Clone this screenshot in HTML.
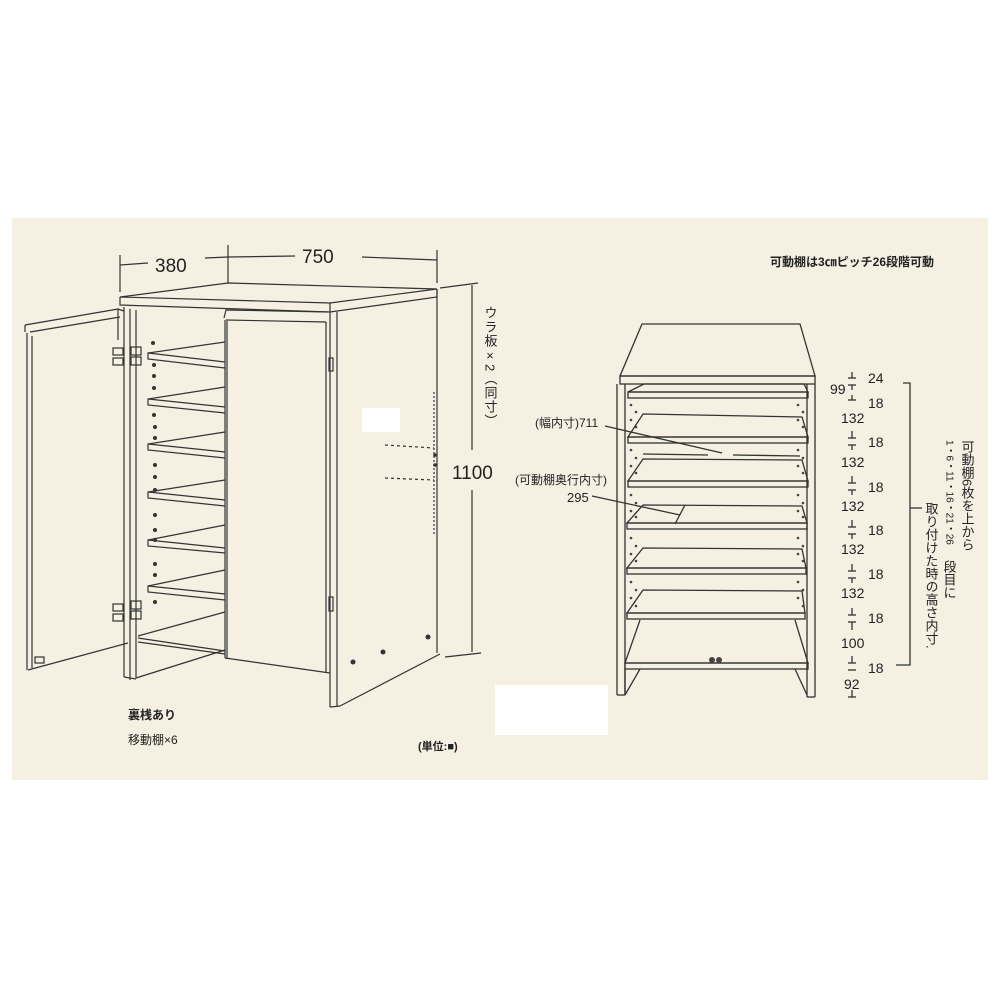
<!DOCTYPE html>
<html><head><meta charset="utf-8"><style>
html,body{margin:0;padding:0;background:#fff;width:1000px;height:1000px;overflow:hidden}
svg{display:block}
text{font-family:"Liberation Sans","Noto Sans CJK JP",sans-serif;fill:#222}
</style></head><body>
<svg width="1000" height="1000" viewBox="0 0 1000 1000" xmlns="http://www.w3.org/2000/svg">
<rect x="0" y="0" width="1000" height="1000" fill="#fff"/>
<rect x="12" y="218" width="976" height="562" fill="#f6f0e3"/>
<rect x="362" y="408" width="38" height="24" fill="#fff"/>
<rect x="495" y="685" width="113" height="50" fill="#fff"/>
<g stroke="#333" stroke-width="1.2" fill="none">
<!-- dims top -->
<line x1="120" y1="255" x2="120" y2="292"/><line x1="120" y1="265" x2="148" y2="263"/>
<line x1="205" y1="258" x2="228" y2="257"/><line x1="228" y1="245" x2="228" y2="283"/>
<line x1="228" y1="257" x2="295" y2="256"/>
<line x1="362" y1="257" x2="437" y2="260"/><line x1="437" y1="250" x2="437" y2="283"/>
<!-- top slab -->
<polygon points="120,297 228,283 437,289 330,303" fill="#f6f0e3"/>
<polyline points="120,297 120,305 330,312 437,297 437,289"/>
<line x1="330" y1="303" x2="330" y2="312"/>
<!-- left side panel -->
<line x1="124" y1="307" x2="124" y2="677"/><line x1="130" y1="309" x2="130" y2="680"/><line x1="136" y1="310" x2="136" y2="678"/>
<line x1="124" y1="677" x2="136" y2="679"/>
<line x1="136" y1="678" x2="225" y2="650"/>
<!-- shelves -->
<g>
<polyline points="225,342 148,353 148,359 225,368"/><line x1="148" y1="353" x2="225" y2="362"/>
<polyline points="225,387 148,399 148,405 225,413"/><line x1="148" y1="399" x2="225" y2="407"/>
<polyline points="225,432 148,444 148,450 225,458"/><line x1="148" y1="444" x2="225" y2="452"/>
<polyline points="225,480 148,492 148,498 225,506"/><line x1="148" y1="492" x2="225" y2="500"/>
<polyline points="225,525 148,540 148,546 225,553"/><line x1="148" y1="540" x2="225" y2="548"/>
<polyline points="225,570 148,586 148,592 225,600"/><line x1="148" y1="586" x2="225" y2="594"/>
<polyline points="225,612 138,636"/><polyline points="138,638 225,651"/><line x1="138" y1="642" x2="225" y2="654"/>
</g>
<!-- open door -->
<polyline points="25,325 118,309 124,311"/><line x1="30" y1="332" x2="120" y2="317"/>
<line x1="25" y1="325" x2="25" y2="332"/>
<line x1="27" y1="333" x2="27" y2="670"/><line x1="32" y1="336" x2="32" y2="668"/>
<line x1="28" y1="670" x2="128" y2="643"/>
<line x1="118" y1="309" x2="118" y2="340"/>
<!-- closed door -->
<polyline points="224,318 226,310 328,312"/>
<line x1="226" y1="320" x2="326" y2="322"/>
<line x1="225" y1="320" x2="225" y2="658"/><line x1="227" y1="321" x2="227" y2="659"/>
<line x1="225" y1="658" x2="330" y2="673"/>
<line x1="326" y1="322" x2="326" y2="673"/>
<!-- right side panel -->
<line x1="330" y1="312" x2="330" y2="707"/><line x1="337" y1="312" x2="337" y2="706"/>
<line x1="330" y1="707" x2="340" y2="706"/>
<line x1="340" y1="706" x2="440" y2="654"/>
<line x1="437" y1="290" x2="437" y2="653"/>
<!-- back line -->
<line x1="440" y1="288" x2="478" y2="283"/>
<line x1="472" y1="285" x2="472" y2="450"/><line x1="472" y1="490" x2="472" y2="652"/>
<line x1="445" y1="657" x2="481" y2="653"/>
<!-- hinge boxes -->
<rect x="113" y="348" width="10" height="7"/><rect x="113" y="358" width="10" height="7"/>
<rect x="131" y="347" width="10" height="8"/><rect x="131" y="357" width="10" height="8"/>
<rect x="113" y="604" width="10" height="7"/><rect x="113" y="614" width="10" height="7"/>
<rect x="131" y="601" width="10" height="8"/><rect x="131" y="611" width="10" height="8"/>
<rect x="35" y="657" width="9" height="6"/>
<rect x="329" y="358" width="4" height="13"/><rect x="329" y="597" width="4" height="14"/>
<!-- dashed right -->
<line x1="434" y1="392" x2="434" y2="535" stroke-dasharray="2,2"/>
<line x1="385" y1="445" x2="434" y2="448" stroke-dasharray="3,3"/>
<line x1="385" y1="478" x2="434" y2="480" stroke-dasharray="3,3"/>
</g>
<g fill="#333">
<circle cx="153" cy="343" r="2"/><circle cx="154" cy="365" r="2"/><circle cx="154" cy="376" r="2"/><circle cx="154" cy="388" r="2"/>
<circle cx="154" cy="415" r="2"/><circle cx="155" cy="427" r="2"/><circle cx="155" cy="438" r="2"/>
<circle cx="155" cy="465" r="2"/><circle cx="155" cy="477" r="2"/><circle cx="155" cy="490" r="2"/>
<circle cx="155" cy="515" r="2"/><circle cx="155" cy="530" r="2"/><circle cx="155" cy="540" r="2"/>
<circle cx="155" cy="564" r="2"/><circle cx="155" cy="575" r="2"/><circle cx="155" cy="602" r="2"/>
<circle cx="353" cy="662" r="2.5"/><circle cx="383" cy="652" r="2.5"/><circle cx="428" cy="637" r="2.5"/>
<circle cx="435" cy="455" r="1.8"/><circle cx="435" cy="465" r="1.8"/>
</g>
<text x="155" y="272" font-size="19">380</text>
<text x="302" y="263" font-size="19">750</text>
<text x="452" y="479" font-size="19">1100</text>
<text font-size="13" writing-mode="tb" x="490" y="306" style="writing-mode:vertical-rl" letter-spacing="1">ウラ板×2（同寸）</text>
<text x="128" y="719" font-size="12" font-weight="bold">裏桟あり</text>
<text x="128" y="744" font-size="12">移動棚×6</text>
<text x="418" y="750" font-size="11" font-weight="bold">(単位:■)</text>

<!-- right drawing -->
<g stroke="#333" stroke-width="1.3" fill="none">
<polygon points="642,324 800,324 815,376 620,376"/>
<rect x="620" y="376" width="195" height="8"/>
<line x1="617" y1="384" x2="617" y2="695"/><line x1="625" y1="384" x2="625" y2="695"/>
<line x1="617" y1="695" x2="625" y2="695"/>
<line x1="807" y1="384" x2="807" y2="697"/><line x1="815" y1="384" x2="815" y2="697"/>
<line x1="807" y1="697" x2="815" y2="697"/>
<!-- shelves -->
<polygon points="644,384 804,384 808,392 628,392"/><rect x="628" y="392" width="180" height="6"/>
<polygon points="643,414 802,417 808,437 628,437"/><rect x="628" y="437" width="180" height="6"/>
<polygon points="643,459 802,460 808,481 628,481"/><rect x="628" y="481" width="180" height="6"/>
<polygon points="643,505 802,506 807,523 627,523"/><rect x="627" y="523" width="180" height="6"/>
<polygon points="643,548 802,549 806,568 627,568"/><rect x="627" y="568" width="179" height="6"/>
<polygon points="643,590 802,591 805,613 627,613"/><rect x="627" y="613" width="178" height="6"/>
<polyline points="640,620 625,663 808,663 795,620"/><rect x="625" y="663" width="183" height="6"/>
<line x1="625" y1="669" x2="625" y2="695"/><line x1="640" y1="669" x2="625" y2="695"/>
<line x1="795" y1="669" x2="807" y2="695"/>
<line x1="643" y1="454" x2="708" y2="455"/><line x1="733" y1="455" x2="800" y2="456"/>
<!-- leaders -->
<line x1="605" y1="426" x2="722" y2="453"/>
<line x1="592" y1="496" x2="680" y2="515"/>
<line x1="685" y1="505" x2="675" y2="524"/>
<!-- dim ticks -->
<line x1="852" y1="372" x2="852" y2="378"/><line x1="848" y1="378" x2="856" y2="378"/>
<line x1="852" y1="385" x2="852" y2="390"/><line x1="848" y1="385" x2="856" y2="385"/>
<line x1="852" y1="395" x2="852" y2="400"/><line x1="848" y1="400" x2="856" y2="400"/>
<g>
<line x1="852" y1="431" x2="852" y2="438"/><line x1="848" y1="438" x2="856" y2="438"/><line x1="848" y1="445" x2="856" y2="445"/><line x1="852" y1="445" x2="852" y2="450"/>
<line x1="852" y1="476" x2="852" y2="483"/><line x1="848" y1="483" x2="856" y2="483"/><line x1="848" y1="490" x2="856" y2="490"/><line x1="852" y1="490" x2="852" y2="495"/>
<line x1="852" y1="520" x2="852" y2="527"/><line x1="848" y1="527" x2="856" y2="527"/><line x1="848" y1="534" x2="856" y2="534"/><line x1="852" y1="534" x2="852" y2="539"/>
<line x1="852" y1="564" x2="852" y2="571"/><line x1="848" y1="571" x2="856" y2="571"/><line x1="848" y1="578" x2="856" y2="578"/><line x1="852" y1="578" x2="852" y2="583"/>
<line x1="852" y1="608" x2="852" y2="615"/><line x1="848" y1="615" x2="856" y2="615"/><line x1="848" y1="622" x2="856" y2="622"/><line x1="852" y1="622" x2="852" y2="630"/>
<line x1="852" y1="656" x2="852" y2="663"/><line x1="848" y1="663" x2="856" y2="663"/><line x1="848" y1="670" x2="856" y2="670"/>
<line x1="852" y1="690" x2="852" y2="697"/><line x1="848" y1="697" x2="856" y2="697"/>
</g>
<!-- bracket -->
<polyline points="903,383 910,383 910,665 896,665"/>
<line x1="910" y1="508" x2="922" y2="508"/>
</g>
<g fill="#444">
<circle cx="631" cy="405" r="1.3"/><circle cx="636" cy="412" r="1.3"/><circle cx="631" cy="420" r="1.3"/><circle cx="636" cy="427" r="1.3"/>
<circle cx="631" cy="450" r="1.3"/><circle cx="636" cy="458" r="1.3"/><circle cx="631" cy="466" r="1.3"/><circle cx="636" cy="473" r="1.3"/>
<circle cx="631" cy="495" r="1.3"/><circle cx="636" cy="503" r="1.3"/><circle cx="631" cy="511" r="1.3"/><circle cx="636" cy="517" r="1.3"/>
<circle cx="631" cy="538" r="1.3"/><circle cx="636" cy="546" r="1.3"/><circle cx="631" cy="554" r="1.3"/><circle cx="636" cy="561" r="1.3"/>
<circle cx="631" cy="582" r="1.3"/><circle cx="636" cy="590" r="1.3"/><circle cx="631" cy="598" r="1.3"/><circle cx="636" cy="606" r="1.3"/>
<circle cx="798" cy="405" r="1.3"/><circle cx="803" cy="412" r="1.3"/><circle cx="798" cy="420" r="1.3"/><circle cx="803" cy="427" r="1.3"/>
<circle cx="798" cy="450" r="1.3"/><circle cx="803" cy="458" r="1.3"/><circle cx="798" cy="466" r="1.3"/><circle cx="803" cy="473" r="1.3"/>
<circle cx="798" cy="495" r="1.3"/><circle cx="803" cy="503" r="1.3"/><circle cx="798" cy="511" r="1.3"/><circle cx="803" cy="517" r="1.3"/>
<circle cx="798" cy="538" r="1.3"/><circle cx="803" cy="546" r="1.3"/><circle cx="798" cy="554" r="1.3"/><circle cx="803" cy="561" r="1.3"/>
<circle cx="798" cy="582" r="1.3"/><circle cx="803" cy="590" r="1.3"/><circle cx="798" cy="598" r="1.3"/><circle cx="803" cy="606" r="1.3"/>
<circle cx="712" cy="660" r="3"/><circle cx="719" cy="660" r="3"/>
</g>
<text x="770" y="266" font-size="12" font-weight="bold">可動棚は3㎝ピッチ26段階可動</text>
<text x="535" y="427" font-size="12">(幅内寸)711</text>
<text x="515" y="484" font-size="12">(可動棚奥行内寸)</text>
<text x="567" y="502" font-size="13">295</text>
<g font-size="14">
<text x="868" y="383">24</text><text x="830" y="394">99</text><text x="868" y="408">18</text>
<text x="841" y="423">132</text><text x="868" y="447">18</text>
<text x="841" y="467">132</text><text x="868" y="492">18</text>
<text x="841" y="511">132</text><text x="868" y="535">18</text>
<text x="841" y="554">132</text><text x="868" y="579">18</text>
<text x="841" y="598">132</text><text x="868" y="623">18</text>
<text x="841" y="648">100</text><text x="868" y="673">18</text>
<text x="844" y="689">92</text>
</g>
<text x="967" y="440" font-size="13" style="writing-mode:vertical-rl">可動棚6枚を上から</text>
<text x="949" y="440" font-size="10" style="writing-mode:vertical-rl">1・6・11・16・21・26</text>
<text x="949" y="560" font-size="13" style="writing-mode:vertical-rl">段目に</text>
<text x="931" y="502" font-size="13" style="writing-mode:vertical-rl">取り付けた時の高さ内寸.</text>
</svg>
</body></html>
